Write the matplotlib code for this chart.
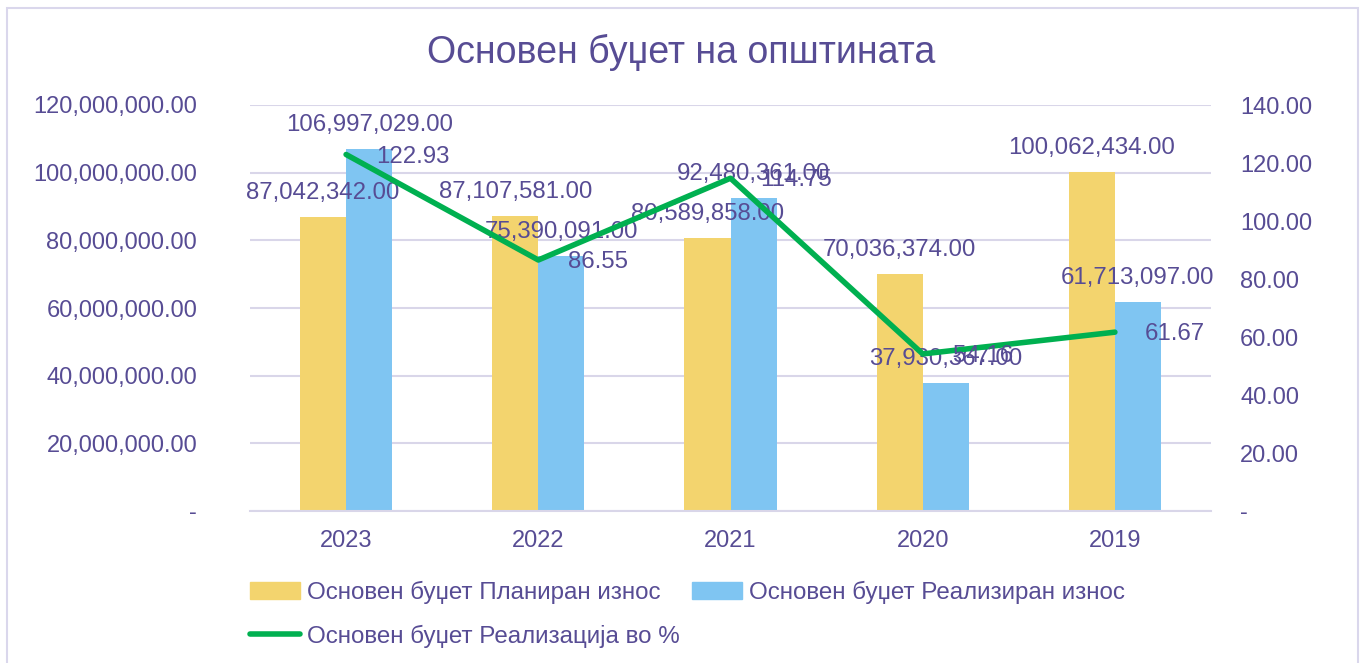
import numpy as np
import matplotlib.pyplot as plt
from matplotlib.patches import Patch, Rectangle
from matplotlib.lines import Line2D
from matplotlib.ticker import FuncFormatter

plt.rcParams['font.family'] = ['Liberation Sans', 'DejaVu Sans']

years = ['2023', '2022', '2021', '2020', '2019']
planned = [87042342.00, 87107581.00, 80589858.00, 70036374.00, 100062434.00]
realized = [106997029.00, 75390091.00, 92480361.00, 37930367.00, 61713097.00]
percent = [122.93, 86.55, 114.75, 54.16, 61.67]

txt = '#574C94'
yellow = '#F3D46E'
blue = '#7FC5F2'
green = '#00B050'
grid_c = '#D9D6E9'

fig = plt.figure(figsize=(13.62, 6.63), dpi=100)
ax = fig.add_axes([250 / 1362, 1 - 511 / 663, 961 / 1362, 406 / 663])
ax2 = ax.twinx()

x = np.arange(len(years))
w = 0.24
b1 = ax.bar(x - w / 2, planned, w, color=yellow, zorder=2)
b2 = ax.bar(x + w / 2, realized, w, color=blue, zorder=2)

ax.set_xlim(-0.5, len(years) - 0.5)
ax.set_ylim(0, 120000000)
ax.set_yticks(np.arange(0, 120000001, 20000000))
ax.yaxis.set_major_formatter(FuncFormatter(lambda v, p: '-' if v == 0 else f'{v:,.2f}'))
ax.set_xticks(x)
ax.set_xticklabels(years)
ax.grid(axis='y', color=grid_c, linewidth=1.5, zorder=0)
ax.set_axisbelow(True)
for s in ['top', 'left', 'right']:
    ax.spines[s].set_visible(False)
ax.spines['bottom'].set_color(grid_c)
ax.spines['bottom'].set_linewidth(1.5)
ax.tick_params(axis='both', length=0, labelsize=17, colors=txt)
ax.tick_params(axis='y', pad=38)
ax.tick_params(axis='x', pad=14)

ax2.plot(x, percent, color=green, linewidth=4, solid_capstyle='round', zorder=3)
ax2.set_ylim(0, 140)
ax2.set_yticks(np.arange(0, 141, 20))
ax2.yaxis.set_major_formatter(FuncFormatter(lambda v, p: '-' if v == 0 else f'{v:.2f}'))
for s in ax2.spines.values():
    s.set_visible(False)
ax2.tick_params(axis='y', length=0, labelsize=17, colors=txt, pad=21)

# data labels
for bars, vals in [(b1, planned), (b2, realized)]:
    for bar, v in zip(bars, vals):
        ax.annotate(f'{v:,.2f}', (bar.get_x() + bar.get_width() / 2, v),
                    xytext=(0, 24), textcoords='offset pixels',
                    ha='center', va='center', fontsize=17.3, color=txt, zorder=5)
for xi, p in zip(x, percent):
    ax2.annotate(f'{p:.2f}', (xi, p), xytext=(30, -2), textcoords='offset pixels',
                 ha='left', va='center', fontsize=17.3, color=txt, zorder=5)

fig.text(0.5, 1 - 52 / 663, 'Основен буџет на општината', ha='center', va='center',
         fontsize=27, color=txt)

handles = [Patch(color=yellow), Line2D([], [], color=green, linewidth=4, solid_capstyle='round'),
           Patch(color=blue)]
labels = ['Основен буџет Планиран износ', 'Основен буџет Реализација во %',
          'Основен буџет Реализиран износ']
fig.legend(handles, labels, ncol=2, loc='upper left', bbox_to_anchor=(240 / 1362, 1 - 571 / 663),
           frameon=False, fontsize=17.4, labelcolor=txt, handlelength=2.07, handleheight=0.75,
           handletextpad=0.3, columnspacing=0.5, labelspacing=0.87, borderaxespad=0)

fig.patches.append(Rectangle((7 / 1362, -0.05), 1351 / 1362, 1 - 8 / 663 + 0.05,
                             transform=fig.transFigure, fill=False,
                             edgecolor='#DAD7EC', linewidth=1.5))

fig.savefig('out.png', dpi=100, facecolor='white')
